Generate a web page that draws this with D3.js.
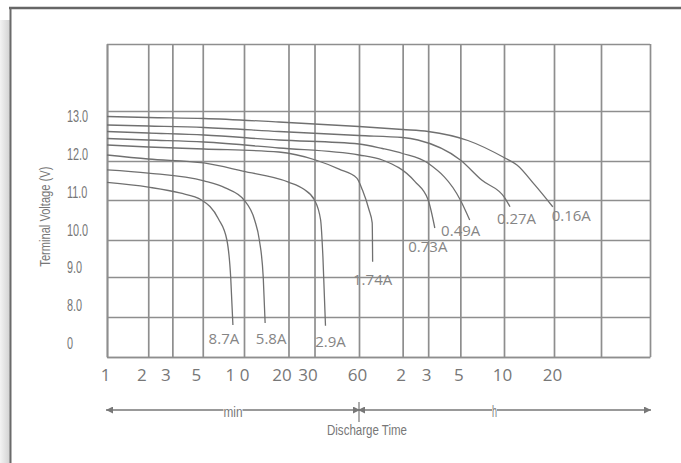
<!DOCTYPE html>
<html>
  <head>
    <meta charset="utf-8" />
    <title>Discharge Characteristics</title>
    <script src="https://d3js.org/d3.v7.min.js"></script>
    <style>
      body { margin: 0; background: #fff; }
      svg { display: block; }
    </style>
  </head>
  <body>
    <svg id="chart" width="681" height="463"></svg>
  </body>
  <script>
    // discharge time in minutes, terminal voltage in volts
    var rates = ["8.7A", "5.8A", "2.9A", "1.74A", "0.73A", "0.49A", "0.27A", "0.16A"];

    var t87 = [1, 2.0, 3.4, 4.9, 6.5, 7.5, 8.0, 8.3];
    var v87 = [11.45, 11.33, 11.18, 11.0, 10.53, 10.0, 8.98, 7.8];
    var t58 = [1, 2.0, 5.1, 7.3, 10, 11.8, 12.7, 13.5, 13.9];
    var v58 = [11.77, 11.69, 11.49, 11.31, 11.0, 10.5, 10.0, 8.98, 7.85];
    var t29 = [1, 2.0, 5.1, 9.8, 20, 25.3, 30, 33, 34.2, 35.6];
    var v29 = [12.12, 12.04, 11.95, 11.74, 11.46, 11.28, 11.0, 10.5, 9.54, 7.78];
    var t174 = [1, 2.0, 5.1, 17.2, 30.5, 44, 58, 63.3, 70.4, 74, 74.5];
    var v174 = [12.32, 12.28, 12.24, 12.18, 12.02, 11.79, 11.56, 11.26, 10.75, 10.43, 9.41];
    var t073 = [1, 2.0, 5.1, 17.2, 60, 87, 146, 180, 200];
    var v073 = [12.45, 12.42, 12.38, 12.26, 12.12, 12.02, 11.47, 11.0, 10.3];
    var t049 = [1, 2.0, 5.1, 17.2, 60, 87, 120, 180, 300, 348];
    var v049 = [12.59, 12.56, 12.52, 12.42, 12.34, 12.25, 12.15, 11.94, 11.0, 10.5];
    var t027 = [1, 2.0, 5.1, 17.2, 60, 120, 153, 300, 421, 608, 652];
    var v027 = [12.72, 12.70, 12.67, 12.59, 12.51, 12.47, 12.42, 12.02, 11.51, 11.05, 10.83];
    var t016 = [1, 2.0, 5.1, 17.2, 60, 120, 180, 338, 608, 718, 922, 1180];
    var v016 = [12.89, 12.87, 12.85, 12.78, 12.69, 12.63, 12.59, 12.41, 12.06, 11.90, 11.38, 10.83];

    var xGridTimes = [1, 2, 3, 5, 10, 20, 30, 60, 120, 180, 300, 600, 1200, 2880, 6300];
    var xTickTimes = [1, 2, 3, 5, 10, 20, 30, 60, 120, 180, 300, 600, 1200];
    var xTickLabels = ["1", "2", "3", "5", "1 0", "20", "30", "60", "2", "3", "5", "10", "20"];
    var yGridValues = [7, 8, 9, 10, 11, 12, 13, 14.34];
    var yTickValues = [13, 12, 11, 10, 9, 8, 7];
    var yTickLabels = ["13.0", "12.0", "11.0", "10.0", "9.0", "8.0", "0"];

    var series = [
      { name: rates[0], t: t87, v: v87 },
      { name: rates[1], t: t58, v: v58 },
      { name: rates[2], t: t29, v: v29 },
      { name: rates[3], t: t174, v: v174 },
      { name: rates[4], t: t073, v: v073 },
      { name: rates[5], t: t049, v: v049 },
      { name: rates[6], t: t027, v: v027 },
      { name: rates[7], t: t016, v: v016 }
    ];

    var svg = d3.select("#chart");
    var gray = "#777";

    // the printed grid is not quite even, so both scales are piecewise
    var x = d3.scaleLog()
      .domain([1, 10, 60, 600, 1200, 2880, 6300])
      .range([107, 244, 359, 504, 554, 601, 650]);
    var y = d3.scaleLinear()
      .domain([7, 8, 9, 10, 11, 12, 13, 14.34])
      .range([357, 317, 277, 240, 200, 161, 111, 44]);
    var yLabel = d3.scaleLinear().domain([7, 13]).range([343, 116.7]);

    var plotLeft = x(1), plotRight = x(6300), plotTop = y(14.34), plotBottom = y(7);

    // page frame with its shadow on the left
    var defs = svg.append("defs");
    var shade = defs.append("linearGradient").attr("id", "shade").attr("x1", 0).attr("x2", 1);
    shade.append("stop").attr("offset", 0).attr("stop-color", "#f3f3f3");
    shade.append("stop").attr("offset", 1).attr("stop-color", "#d2d2d2");
    svg.append("rect").attr("x", 0).attr("y", 20).attr("width", 10).attr("height", 443)
      .attr("fill", "url(#shade)");
    svg.append("line").attr("x1", 9).attr("x2", 681).attr("y1", 8).attr("y2", 8)
      .attr("stroke", "#666").attr("stroke-width", 2.5);
    svg.append("line").attr("x1", 10.5).attr("x2", 10.5).attr("y1", 7).attr("y2", 463)
      .attr("stroke", "#6a6a6a").attr("stroke-width", 2);

    // grid
    var vGrid = svg.append("g")
      .attr("transform", "translate(0," + plotBottom + ")")
      .call(d3.axisBottom(x).tickValues(xGridTimes).tickSize(-(plotBottom - plotTop)).tickSizeOuter(0).tickFormat(""));
    var hGrid = svg.append("g")
      .attr("transform", "translate(" + plotLeft + ",0)")
      .call(d3.axisLeft(y).tickValues(yGridValues).tickSize(-(plotRight - plotLeft)).tickSizeOuter(0).tickFormat(""));
    [vGrid, hGrid].forEach(function(g) {
      g.selectAll("line, .domain").attr("stroke", "#8e8e8e").attr("stroke-width", 1.7);
    });

    // x tick labels
    var xAxis = svg.append("g")
      .attr("transform", "translate(0," + plotBottom + ")")
      .call(d3.axisBottom(x).tickValues(xTickTimes)
        .tickFormat(function(d, i) { return xTickLabels[i]; })
        .tickSize(0).tickPadding(12));
    xAxis.select(".domain").remove();
    xAxis.selectAll("text")
      .attr("font-family", "Open Sans")
      .attr("font-size", 17)
      .attr("fill", gray)
      .attr("dx", function(d) { return (d > 1 && d < 60) ? -7 : -2; });

    // y tick labels, narrow type
    svg.append("g").selectAll("text")
      .data(yTickValues)
      .enter().append("text")
      .attr("transform", function(d) { return "translate(67," + yLabel(d) + ") scale(0.68,1)"; })
      .attr("dy", "0.36em")
      .attr("font-family", "Liberation Sans")
      .attr("font-size", 16)
      .attr("fill", gray)
      .text(function(d, i) { return yTickLabels[i]; });

    svg.append("text")
      .attr("transform", "translate(50," + yLabel(10.35) + ") rotate(-90)")
      .attr("text-anchor", "middle")
      .attr("font-family", "Liberation Sans")
      .attr("font-size", 14)
      .attr("textLength", 100)
      .attr("lengthAdjust", "spacingAndGlyphs")
      .attr("fill", gray)
      .text("Terminal Voltage (V)");

    // discharge curves
    var line = d3.line()
      .x(function(d) { return x(d[0]); })
      .y(function(d) { return y(d[1]); })
      .curve(d3.curveMonotoneX);

    svg.append("g").selectAll("path")
      .data(series)
      .enter().append("path")
      .attr("fill", "none")
      .attr("stroke", "#707070")
      .attr("stroke-width", 1.3)
      .attr("d", function(s) { return line(d3.zip(s.t, s.v)); });

    // where each rate label sits relative to the curve end
    var nudge = {
      "8.7A": [-9, 18.5], "5.8A": [6, 20.5], "2.9A": [5, 21.5], "1.74A": [0, 23.5],
      "0.73A": [-7, 23.5], "0.49A": [-9, 15.5], "0.27A": [6.5, 17.5], "0.16A": [18.5, 14.5]
    };
    svg.append("g").selectAll("text")
      .data(series)
      .enter().append("text")
      .attr("x", function(s) { return x(s.t[s.t.length - 1]) + nudge[s.name][0]; })
      .attr("y", function(s) { return y(s.v[s.v.length - 1]) + nudge[s.name][1]; })
      .attr("text-anchor", "middle")
      .attr("font-family", "Open Sans")
      .attr("font-size", 15)
      .attr("fill", "#858585")
      .text(function(s) { return s.name; });

    // time unit arrows under the axis
    var arrowY = 410;
    defs.append("marker")
      .attr("id", "tip")
      .attr("viewBox", "0 0 7 7")
      .attr("refX", 7).attr("refY", 3.5)
      .attr("markerWidth", 7).attr("markerHeight", 7)
      .attr("markerUnits", "userSpaceOnUse")
      .attr("orient", "auto-start-reverse")
      .append("path").attr("d", "M0,0L7,3.5L0,7Z").attr("fill", gray);

    var spans = [[1, 60], [60, 6300]];
    svg.append("g").selectAll("line")
      .data(spans)
      .enter().append("line")
      .attr("x1", function(d) { return x(d[0]) - 1; })
      .attr("x2", function(d) { return x(d[1]) + 1; })
      .attr("y1", arrowY).attr("y2", arrowY)
      .attr("stroke", gray).attr("stroke-width", 1.3)
      .attr("marker-start", "url(#tip)")
      .attr("marker-end", "url(#tip)");
    svg.append("line")
      .attr("x1", x(60)).attr("x2", x(60))
      .attr("y1", arrowY - 8).attr("y2", arrowY + 12)
      .attr("stroke", gray).attr("stroke-width", 1.2);

    var unitText = function(label, cx, width, size) {
      svg.append("rect")
        .attr("x", cx - width / 2).attr("y", arrowY - 3)
        .attr("width", width).attr("height", 8).attr("fill", "#fff");
      svg.append("text")
        .attr("x", cx).attr("y", arrowY + 6.5)
        .attr("text-anchor", "middle")
        .attr("font-family", "Liberation Sans")
        .attr("font-size", size)
        .attr("textLength", width)
        .attr("lengthAdjust", "spacingAndGlyphs")
        .attr("fill", gray)
        .text(label);
    };
    unitText("min", (x(1) + x(60)) / 2, 19, 15);
    unitText("h", (x(60) + x(6300)) / 2 - 10, 5, 16);

    svg.append("text")
      .attr("x", x(60) + 8).attr("y", arrowY + 25)
      .attr("text-anchor", "middle")
      .attr("font-family", "Liberation Sans")
      .attr("font-size", 15)
      .attr("textLength", 80)
      .attr("lengthAdjust", "spacingAndGlyphs")
      .attr("fill", gray)
      .text("Discharge Time");
  </script>
</html>
